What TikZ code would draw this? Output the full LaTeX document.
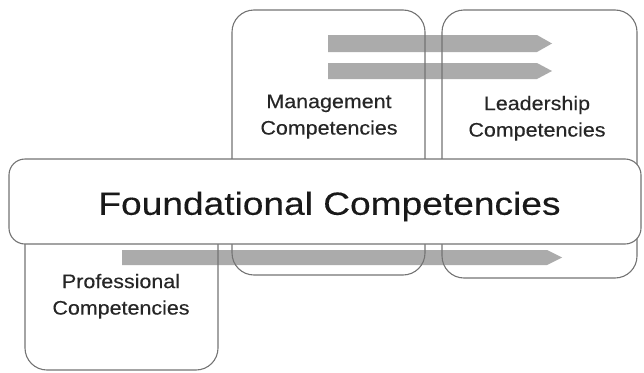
\documentclass[tikz,border=0pt]{standalone}
\usepackage{fontspec}
\setmainfont{Liberation Sans}
\newfontfamily\lblfont[FakeBold=0.3]{Liberation Sans}
\newfontfamily\bigfont[FakeStretch=1.16,FakeBold=0.3]{Liberation Sans}
\newcommand{\twoline}[2]{\scalebox{1.1}[1]{\begin{tabular}{@{}c@{}}#1\\#2\end{tabular}}}
\begin{document}
\begin{tikzpicture}[x=1pt,y=-1pt,
  compbox/.style={draw=black!55, line width=1.1pt, rounded corners=22pt},
  bar/.style={fill=black!33, draw=none},
  lbl/.style={inner sep=0pt, text=black!85, font=\lblfont\fontsize{19.5}{26.5}\selectfont},
  biglbl/.style={inner sep=0pt, text=black!90, font=\bigfont\fontsize{32}{36}\selectfont}]
\useasboundingbox (0,0) rectangle (644,372);
% arrows
\fill[bar] (328,35) -- (537,35) -- (552,43.5) -- (537,52) -- (328,52) -- cycle;
\fill[bar] (328,63) -- (537,63) -- (552,71) -- (537,79) -- (328,79) -- cycle;
\fill[bar] (122,250) -- (547,250) -- (562,257.5) -- (547,265) -- (122,265) -- cycle;
% boxes
\draw[compbox] (232,10) rectangle (425,275);
\draw[compbox] (442,10) rectangle (637,278);
\draw[compbox] (25,175) rectangle (218,370);
\draw[compbox, fill=white, rounded corners=16pt] (9,159) rectangle (641,244);
% labels
\node[lbl] (mgmt) at (329,116) {\twoline{Management}{Competencies}};
\node[lbl] (lead) at (537,118) {\twoline{Leadership}{Competencies}};
\node[lbl] (prof) at (121,296) {\twoline{Professional}{Competencies}};
\node[biglbl] (found) at (329.5,206.5) {Foundational Competencies};
\end{tikzpicture}
\end{document}
